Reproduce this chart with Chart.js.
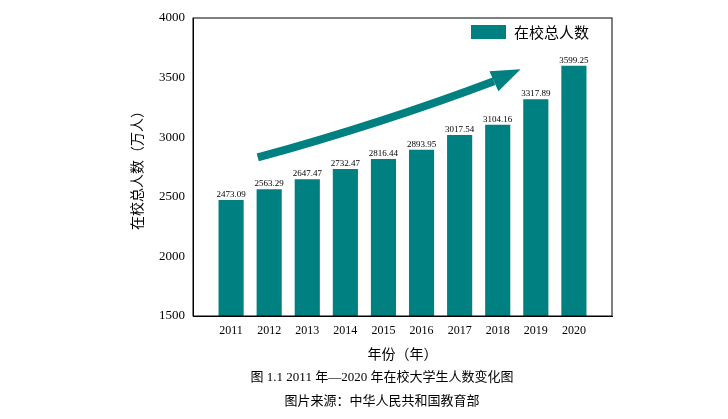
<!DOCTYPE html>
<html><head><meta charset="utf-8">
<script src="https://cdn.jsdelivr.net/npm/chart.js@4"></script>
<style>html,body{margin:0;background:#fff}#wrap{width:728px;height:419px}</style>
</head><body><div id="wrap"><canvas id="c"></canvas></div>
<script>
const years = [2011, 2012, 2013, 2014, 2015, 2016, 2017, 2018, 2019, 2020];
const students = [2473.09, 2563.29, 2647.47, 2732.47, 2816.44, 2893.95, 3017.54, 3104.16, 3317.89, 3599.25];
const yTicks = [1500, 2000, 2500, 3000, 3500, 4000];
const TEAL = "#008080";
const serif = "'Liberation Serif', 'Noto Sans CJK SC', serif";

// labels, arrow, legend, captions and frame
const extras = {
  id: "extras",
  afterDatasetsDraw(chart) {
    const { ctx, chartArea: a, scales: { x, y } } = chart;
    ctx.save();
    ctx.strokeStyle = "#000"; ctx.lineWidth = 1;
    ctx.strokeRect(a.left, a.top, a.right - a.left, a.bottom - a.top);
    // value labels
    ctx.fillStyle = "#000"; ctx.font = "9px " + serif; ctx.textAlign = "center"; ctx.textBaseline = "bottom";
    years.forEach((yr, i) => ctx.fillText(students[i].toFixed(2), x.getPixelForValue(yr), y.getPixelForValue(students[i]) - 1));
    // curved arrow
    const p0 = [x.getPixelForValue(2011.7), y.getPixelForValue(2830)];
    const pc = [x.getPixelForValue(2015), y.getPixelForValue(3120)];
    const p1 = [x.getPixelForValue(2017.9), y.getPixelForValue(3470)];
    ctx.fillStyle = TEAL; ctx.strokeStyle = TEAL; ctx.lineWidth = 8;
    ctx.beginPath(); ctx.moveTo(p0[0], p0[1]); ctx.quadraticCurveTo(pc[0], pc[1], p1[0], p1[1]); ctx.stroke();
    const tip = [x.getPixelForValue(2018.6), y.getPixelForValue(3570)];
    const ang = Math.atan2(tip[1] - p1[1], tip[0] - p1[0]) + Math.PI / 2;
    ctx.beginPath();
    ctx.moveTo(tip[0], tip[1]);
    ctx.lineTo(p1[0] + 11 * Math.cos(ang), p1[1] + 11 * Math.sin(ang));
    ctx.lineTo(p1[0] - 11 * Math.cos(ang), p1[1] - 11 * Math.sin(ang));
    ctx.closePath(); ctx.fill();
    // legend
    ctx.fillRect(471, 25, 35, 14);
    ctx.fillStyle = "#000"; ctx.font = "15px 'Noto Sans CJK SC'"; ctx.textAlign = "left"; ctx.textBaseline = "middle";
    ctx.fillText("在校总人数", 514, 32);
    // captions
    ctx.textAlign = "center"; ctx.font = "13px " + serif;
    ctx.fillText("图 1.1 2011 年—2020 年在校大学生人数变化图", 382, 378);
    ctx.fillText("图片来源：中华人民共和国教育部", 382, 402);
    ctx.restore();
  }
};

new Chart(document.getElementById("c"), {
  type: "bar",
  data: { datasets: [{ data: years.map((yr, i) => ({ x: yr, y: students[i] })), backgroundColor: TEAL, barPercentage: 0.66, categoryPercentage: 1 }] },
  options: {
    responsive: true, maintainAspectRatio: false, animation: false,
    layout: { padding: { left: 128, right: 116, top: 18, bottom: 53 } },
    plugins: { legend: { display: false }, tooltip: { enabled: false } },
    scales: {
      x: {
        type: "linear", min: 2010, max: 2021, offset: false,
        afterFit: s => { s.height = 50; },
        afterBuildTicks: s => { s.ticks = years.map(v => ({ value: v })); },
        grid: { display: false, drawTicks: false }, border: { color: "#000" },
        ticks: { color: "#000", font: { family: serif, size: 12 }, padding: 8, callback: v => String(v) },
        title: { display: true, text: "年份（年）", color: "#000", font: { family: "'Noto Sans CJK SC'", size: 14 }, padding: { top: 2 } }
      },
      y: {
        min: 1500, max: 4000,
        afterFit: s => { s.width = 65; },
        afterBuildTicks: s => { s.ticks = yTicks.map(v => ({ value: v })); },
        grid: { display: false, drawTicks: false }, border: { color: "#000" },
        ticks: { color: "#000", font: { family: serif, size: 13 }, padding: 8, callback: v => String(v) },
        title: { display: true, text: "在校总人数（万人）", color: "#000", font: { family: "'Noto Sans CJK SC'", size: 14 }, padding: 0 }
      }
    }
  },
  plugins: [extras]
});
</script></body></html>
